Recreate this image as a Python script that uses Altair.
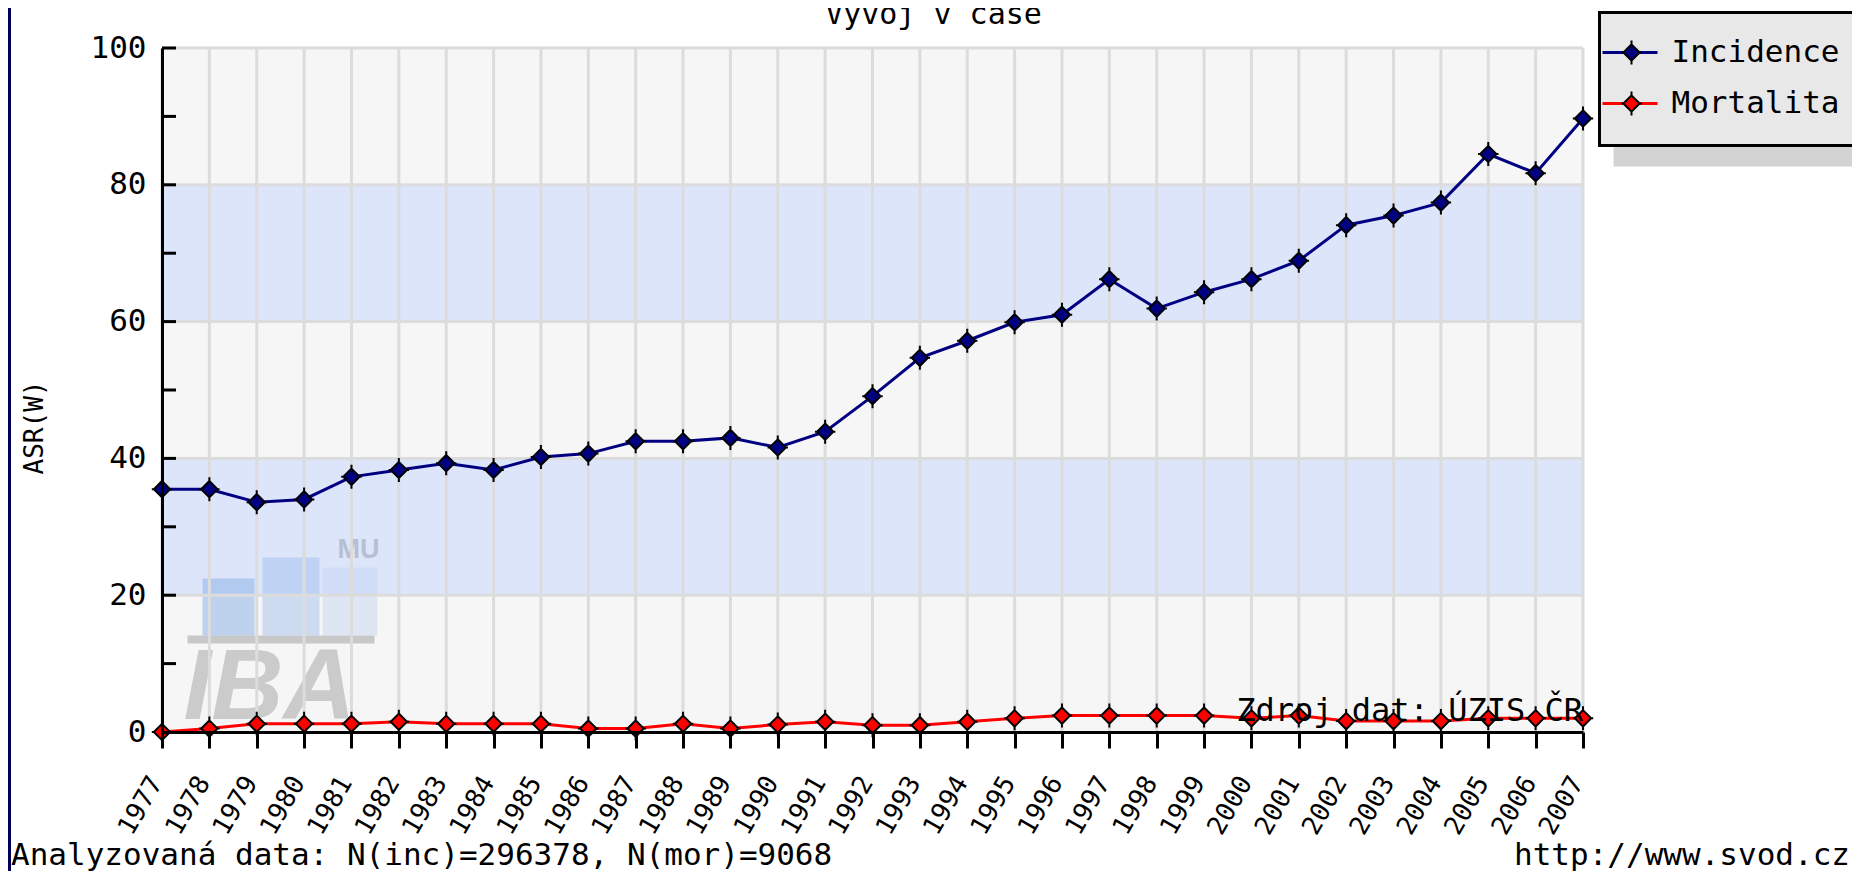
import altair as alt
import pandas as pd

# ---------------- data ----------------
years = [1977, 1978, 1979, 1980, 1981, 1982, 1983, 1984, 1985, 1986, 1987,
         1988, 1989, 1990, 1991, 1992, 1993, 1994, 1995, 1996, 1997, 1998,
         1999, 2000, 2001, 2002, 2003, 2004, 2005, 2006, 2007]
incidence = [35.5, 35.5, 33.6, 34.0, 37.3, 38.3, 39.3, 38.3, 40.2, 40.7, 42.5,
             42.5, 43.0, 41.6, 43.9, 49.1, 54.7, 57.2, 59.9, 61.0, 66.2, 61.9,
             64.3, 66.2, 68.9, 74.1, 75.5, 77.4, 84.5, 81.7, 89.7]
mortality = [0.0, 0.5, 1.2, 1.2, 1.2, 1.5, 1.2, 1.2, 1.2, 0.5, 0.5,
             1.2, 0.5, 1.1, 1.5, 1.0, 1.0, 1.5, 2.0, 2.4, 2.4, 2.4,
             2.4, 2.0, 2.4, 1.6, 1.6, 1.6, 2.0, 2.0, 2.0]
series_names = ["Incidence", "Mortalita"]
series_colors = ["#000080", "#ff0000"]

band_lo = [0, 20, 40, 60, 80]
band_hi = [20, 40, 60, 80, 100]
band_fill = ["#f6f6f6", "#dde5fb", "#f6f6f6", "#dde5fb", "#f6f6f6"]
grid_y = [20, 40, 60, 80, 100]
tick_y = [0, 10, 20, 30, 40, 50, 60, 70, 80, 90, 100]
y_label_values = [0, 20, 40, 60, 80, 100]

title_text = "Vývoj v čase"
y_title = "ASR(W)"
source_text = "Zdroj dat: ÚZIS ČR"
footer_left = "Analyzovaná data: N(inc)=296378, N(mor)=9068"
footer_right = "http://www.svod.cz"

# ---------------- layout ----------------
W, H = 1421, 684
PL, PT, PR, PB = 154, 40, 269, 139
FONT = "DejaVu Sans Mono"
MARKER = ("M0,-0.68L0.68,0L0,0.68L-0.68,0Z"
          "M0,-1V-0.68M0,0.68V1M-0.85,0H-0.68M0.68,0H0.85")

df = pd.DataFrame({
    "year": years * 2,
    "value": incidence + mortality,
    "series": [series_names[0]] * len(years) + [series_names[1]] * len(years),
})

xs = alt.Scale(domain=[years[0], years[-1]], nice=False, zero=False)
ys = alt.Scale(domain=[0, 100], nice=False, zero=True)
cs = alt.Scale(domain=series_names, range=series_colors)

X_AXIS = alt.Axis(
    values=years, format="d", title=None, grid=False,
    domain=True, domainColor="black", domainWidth=3,
    ticks=True, tickColor="black", tickWidth=3, tickSize=16,
    labelFont=FONT, labelFontSize=26, labelColor="black",
    labelAngle=-60, labelAlign="right", labelBaseline="middle",
    labelPadding=30, labelOffset=-6, labelOverlap=False, labelFlush=False,
    zindex=1,
)
Y_AXIS = alt.Axis(
    values=y_label_values, title=None, grid=False,
    domain=True, domainColor="black", domainWidth=3, ticks=False,
    labelFont=FONT, labelFontSize=31, labelColor="black",
    labelPadding=16, zindex=1,
)


def X(field):
    return alt.X(field, scale=xs, axis=X_AXIS)


def Y(field):
    return alt.Y(field, scale=ys, axis=Y_AXIS)


def one(text=""):
    return pd.DataFrame({"t": [text]})


layers = []

# background bands
layers.append(
    alt.Chart(pd.DataFrame({"lo": band_lo, "hi": band_hi, "fill": band_fill}))
    .mark_rect()
    .encode(
        x=alt.value(0), x2=alt.value(W),
        y=Y("lo:Q"), y2="hi:Q",
        fill=alt.Fill("fill:N", scale=None),
    )
)

# watermark logo (decoration)
logo_rects = [
    (25.5, 212.5, 587.5, 595.5, "#c8c8c8", 1.0),
    (40.5, 92.5, 530.5, 587.5, "#8fb4e8", 0.55),
    (100.5, 157.5, 509.5, 587.5, "#a3bfec", 0.5),
    (160.5, 215.5, 519.5, 587.5, "#c3d2f0", 0.45),
]
for x1, x2, y1, y2, col, op in logo_rects:
    layers.append(
        alt.Chart(one()).mark_rect(color=col, opacity=op).encode(
            x=alt.value(x1), x2=alt.value(x2), y=alt.value(y1), y2=alt.value(y2)
        )
    )
layers.append(
    alt.Chart(one("IBA")).mark_text(
        font="Liberation Sans", fontSize=100, fontWeight="bold", fontStyle="italic",
        color="#cbcbcb", align="left", baseline="alphabetic",
    ).encode(x=alt.value(21.5), y=alt.value(670.5), text="t:N")
)
layers.append(
    alt.Chart(one("MU")).mark_text(
        font="Liberation Sans", fontSize=27, fontWeight="bold",
        color="#b7bfd2", align="left", baseline="alphabetic",
    ).encode(x=alt.value(175.5), y=alt.value(509.5), text="t:N")
)

# vertical grid
layers.append(
    alt.Chart(pd.DataFrame({"year": years}))
    .mark_rule(color="#dcdcdc", strokeWidth=3)
    .encode(x=X("year:Q"), y=alt.value(0), y2=alt.value(H))
)
# horizontal grid
layers.append(
    alt.Chart(pd.DataFrame({"value": grid_y}))
    .mark_rule(color="#dcdcdc", strokeWidth=3)
    .encode(y=Y("value:Q"), x=alt.value(0), x2=alt.value(W))
)
# inward y ticks
layers.append(
    alt.Chart(pd.DataFrame({"value": tick_y}))
    .mark_rule(color="black", strokeWidth=3)
    .encode(y=Y("value:Q"), x=alt.value(0), x2=alt.value(14))
)

# lines
layers.append(
    alt.Chart(df).mark_line(strokeWidth=3).encode(
        x=X("year:Q"),
        y=Y("value:Q"),
        color=alt.Color("series:N", scale=cs, legend=None),
        detail="series:N",
    )
)
# markers
layers.append(
    alt.Chart(df).mark_point(
        filled=True, shape=MARKER, size=576, stroke="black", strokeWidth=2, opacity=1
    ).encode(
        x=X("year:Q"),
        y=Y("value:Q"),
        fill=alt.Fill("series:N", scale=cs, legend=None),
    )
)

# texts
layers.append(
    alt.Chart(one(source_text)).mark_text(
        font=FONT, fontSize=32, color="black", align="right", baseline="alphabetic"
    ).encode(x=alt.value(W), y=alt.value(672.5), text="t:N")
)
layers.append(
    alt.Chart(one(title_text)).mark_text(
        font=FONT, fontSize=30, color="black", align="center", baseline="alphabetic"
    ).encode(x=alt.value(771.5), y=alt.value(-24), text="t:N")
)
layers.append(
    alt.Chart(one(y_title)).mark_text(
        font=FONT, fontSize=26, color="black", align="center", baseline="middle", angle=270
    ).encode(x=alt.value(-127.5), y=alt.value(379.5), text="t:N")
)
layers.append(
    alt.Chart(one(footer_left)).mark_text(
        font=FONT, fontSize=31, color="black", align="left", baseline="alphabetic"
    ).encode(x=alt.value(-151.0), y=alt.value(817), text="t:N")
)
layers.append(
    alt.Chart(one(footer_right)).mark_text(
        font=FONT, fontSize=31, color="black", align="right", baseline="alphabetic"
    ).encode(x=alt.value(1688), y=alt.value(817), text="t:N")
)

# navy strip at left edge (decoration)
layers.append(
    alt.Chart(one()).mark_rect(color="#000058").encode(
        x=alt.value(-PL), x2=alt.value(-PL + 3), y=alt.value(-PT), y2=alt.value(H + PB)
    )
)

# legend box (decoration built from series lists)
layers.append(
    alt.Chart(one()).mark_rect(color="#d3d3d3").encode(
        x=alt.value(1451.5), x2=alt.value(1720), y=alt.value(-15), y2=alt.value(118.5)
    )
)
layers.append(
    alt.Chart(one()).mark_rect(fill="#e8e8e8", stroke="black", strokeWidth=3).encode(
        x=alt.value(1437.5), x2=alt.value(1720), y=alt.value(-35.5), y2=alt.value(97.5)
    )
)
for i, (name, col) in enumerate(zip(series_names, series_colors)):
    ly = 4.5 + 51 * i
    layers.append(
        alt.Chart(one()).mark_rule(color=col, strokeWidth=3).encode(
            x=alt.value(1440.5), x2=alt.value(1495.5), y=alt.value(ly)
        )
    )
    layers.append(
        alt.Chart(one()).mark_point(
            filled=True, shape=MARKER, size=576, fill=col, stroke="black",
            strokeWidth=2, opacity=1
        ).encode(x=alt.value(1469.5), y=alt.value(ly))
    )
    layers.append(
        alt.Chart(one(name)).mark_text(
            font=FONT, fontSize=31, color="black", align="left", baseline="middle"
        ).encode(x=alt.value(1509.5), y=alt.value(ly), text="t:N")
    )

chart = (
    alt.layer(*layers)
    .properties(
        width=W, height=H,
        padding={"left": PL, "top": PT, "right": PR, "bottom": PB},
        autosize=alt.AutoSizeParams(type="none"),
        background="white",
    )
    .configure_view(stroke=None)
)

chart.save("out.html", embed_options={"renderer": "svg", "actions": False})
